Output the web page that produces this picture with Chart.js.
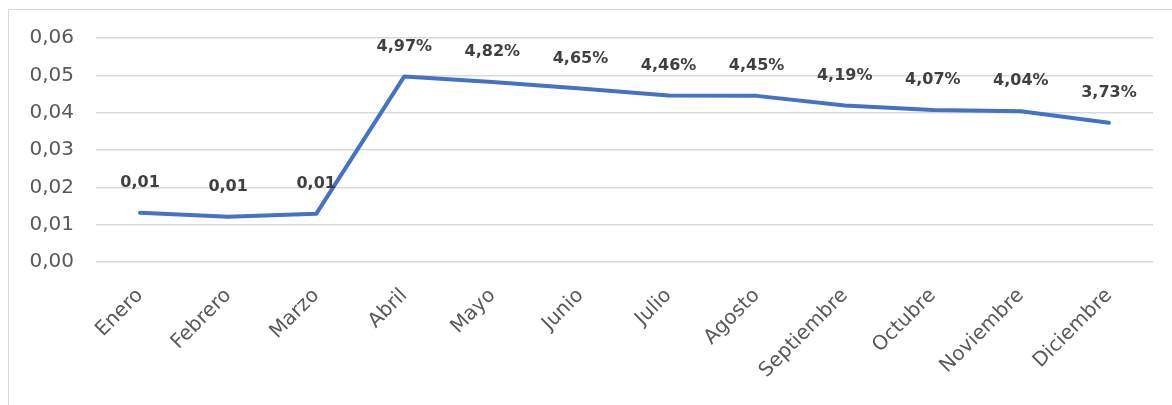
<!DOCTYPE html>
<html>
<head>
<meta charset="utf-8">
<script src="https://cdn.jsdelivr.net/npm/chart.js@4/dist/chart.umd.min.js"></script>
<style>
  html, body { margin: 0; padding: 0; background: #fff; }
  #wrap { position: relative; width: 1172px; height: 405px; overflow: hidden; }
  #frame { position: absolute; left: 8px; top: 9px; width: 1300px; height: 500px; border: 1px solid #d9d9d9; }
  canvas { position: absolute; left: 0; top: 0; }
</style>
</head>
<body>
<div id="wrap">
  <div id="frame"></div>
  <canvas id="chart" width="1172" height="405"></canvas>
</div>
<script>
const months = ["Enero", "Febrero", "Marzo", "Abril", "Mayo", "Junio", "Julio", "Agosto", "Septiembre", "Octubre", "Noviembre", "Diciembre"];
const rates = [0.0132, 0.0121, 0.0129, 0.0497, 0.0482, 0.0465, 0.0446, 0.0445, 0.0419, 0.0407, 0.0404, 0.0373];
const pointLabels = ["0,01", "0,01", "0,01", "4,97%", "4,82%", "4,65%", "4,46%", "4,45%", "4,19%", "4,07%", "4,04%", "3,73%"];
const yTicks = [0, 0.01, 0.02, 0.03, 0.04, 0.05, 0.06];

const FONT = "'DejaVu Sans', sans-serif";
const LINE_COLOR = "#4472C4";
const TEXT_COLOR = "#595959";

// draws the bold value labels above each point
const valueLabels = {
    id: "valueLabels",
    afterDatasetsDraw(chart) {
        const ctx = chart.ctx;
        const meta = chart.getDatasetMeta(0);
        ctx.save();
        ctx.font = "bold 16px " + FONT;
        ctx.fillStyle = "#404040";
        ctx.textAlign = "center";
        ctx.textBaseline = "middle";
        meta.data.forEach((pt, i) => {
            ctx.fillText(pointLabels[i], pt.x, pt.y - 30);
        });
        ctx.restore();
    }
};

new Chart(document.getElementById("chart"), {
    type: "line",
    data: {
        labels: months,
        datasets: [{
            data: rates,
            borderColor: LINE_COLOR,
            borderWidth: 4,
            borderCapStyle: "round",
            borderJoinStyle: "round",
            pointRadius: 0,
            tension: 0,
            fill: false
        }]
    },
    options: {
        responsive: false,
        animation: false,
        layout: { padding: { left: 20, right: 19, top: 38, bottom: 0 } },
        plugins: { legend: { display: false }, tooltip: { enabled: false } },
        scales: {
            x: {
                offset: true,
                grid: { display: false, drawTicks: false },
                border: { display: false },
                ticks: {
                    color: TEXT_COLOR,
                    font: { family: FONT, size: 20 },
                    maxRotation: 45,
                    minRotation: 45,
                    padding: 22,
                    autoSkip: false
                },
                afterFit(scale) { scale.height = 143; }
            },
            y: {
                min: 0,
                max: 0.06,
                afterBuildTicks(scale) { scale.ticks = yTicks.map(v => ({ value: v })); },
                grid: { color: "#d9d9d9", lineWidth: 1.5, drawTicks: false },
                border: { display: false },
                ticks: {
                    color: TEXT_COLOR,
                    font: { family: FONT, size: 20 },
                    padding: 22,
                    callback: v => v.toFixed(2).replace(".", ",")
                },
                afterFit(scale) { scale.width = 76; }
            }
        }
    },
    plugins: [valueLabels]
});
</script>
</body>
</html>
